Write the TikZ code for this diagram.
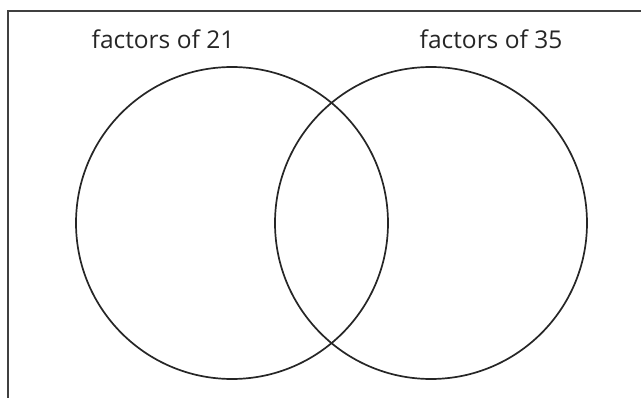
\documentclass[tikz,border=0pt]{standalone}
\usepackage{fontspec}
\setmainfont{Open Sans}
\tikzset{
  setcircle/.style={circle, draw=black!85, line width=1.7pt, minimum size=312pt, inner sep=0pt},
  setlabel/.style={font=\fontsize{24.5}{28}\selectfont, text=black!85, inner sep=0pt, anchor=base},
  frameline/.style={draw=black!75, line width=2pt}
}
\begin{document}
\begin{tikzpicture}[x=1pt,y=-1pt]
\useasboundingbox (0,0) rectangle (641,398);
\coordinate (fbl) at (8,400);
\coordinate (ftl) at (8,11);
\coordinate (ftr) at (643,11);
\draw[frameline] (fbl) -- (ftl) -- (ftr);
\node[setcircle] (A) at (232,223) {};
\node[setcircle] (B) at (431,223) {};
\node[setlabel] (la) at (163,49) {factors of 21};
\node[setlabel] (lb) at (491,49) {factors of 35};
\end{tikzpicture}
\end{document}
